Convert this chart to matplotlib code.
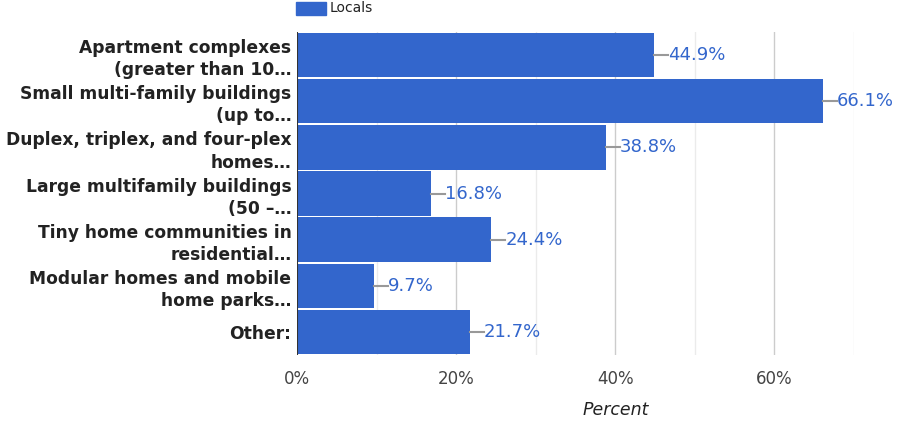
import matplotlib
matplotlib.use("Agg")
import matplotlib.pyplot as plt
from matplotlib.patches import Rectangle

plt.rcParams["font.family"] = ["DejaVu Sans"]

categories = [
    "Apartment complexes\n(greater than 10…",
    "Small multi-family buildings\n(up to…",
    "Duplex, triplex, and four-plex\nhomes…",
    "Large multifamily buildings\n(50 –…",
    "Tiny home communities in\nresidential…",
    "Modular homes and mobile\nhome parks…",
    "Other:",
]
values = [44.9, 66.1, 38.8, 16.8, 24.4, 9.7, 21.7]
xticks = [0, 20, 40, 60]
xtick_labels = ["0%", "20%", "40%", "60%"]
series_name = "Locals"

W, H = 898, 423
fig = plt.figure(figsize=(W / 100, H / 100), dpi=100)
left, right, top, bottom = 297, 854, 32, 355
ax = fig.add_axes([left / W, 1 - bottom / H, (right - left) / W, (bottom - top) / H])

blue = "#3366cc"
n = len(categories)
ys = list(range(n))
ax.barh(ys, values, height=0.96, color=blue, zorder=3)
ax.set_ylim(n - 0.5, -0.5)
ax.set_xlim(0, 70)

# grid
for g in range(10, 71, 10):
    c = "#cccccc" if g % 20 == 0 else "#ebebeb"
    ax.axvline(g, color=c, lw=1, zorder=1)
ax.axvline(0, color="#333333", lw=1.5, zorder=4)

for s in ax.spines.values():
    s.set_visible(False)

ax.set_yticks(ys)
ax.set_yticklabels(categories, fontsize=12.3, fontweight="bold", color="#222222",
                   linespacing=1.3)
ax.tick_params(axis="y", length=0, pad=4)
ax.set_xticks(xticks)
ax.set_xticklabels(xtick_labels, fontsize=12, color="#444444")
ax.tick_params(axis="x", length=0, pad=17)
for t in ax.get_xticklabels():
    t.set_va("center")
ax.set_xlabel("Percent", fontsize=12.5, style="italic", color="#222222")
ax.xaxis.set_label_coords(40 / 70, -0.17)
ax.xaxis.label.set_va("center")

# value labels with leader lines
px = 70 / (right - left)
for y, v in zip(ys, values):
    ax.plot([v, v + 14 * px], [y, y], color="#999999", lw=1.5, zorder=4, clip_on=False)
    ax.text(v + 14 * px, y, f"{v}%", color=blue, fontsize=13, va="center",
            ha="left", clip_on=False)

# legend
fig.patches.append(Rectangle((296 / W, 1 - 15 / H), 30 / W, 13 / H,
                             transform=fig.transFigure, color=blue))
fig.text(330 / W, 1 - 8.5 / H, series_name, fontsize=10, color="#222222", va="center")

fig.savefig("out.png", dpi=100)
